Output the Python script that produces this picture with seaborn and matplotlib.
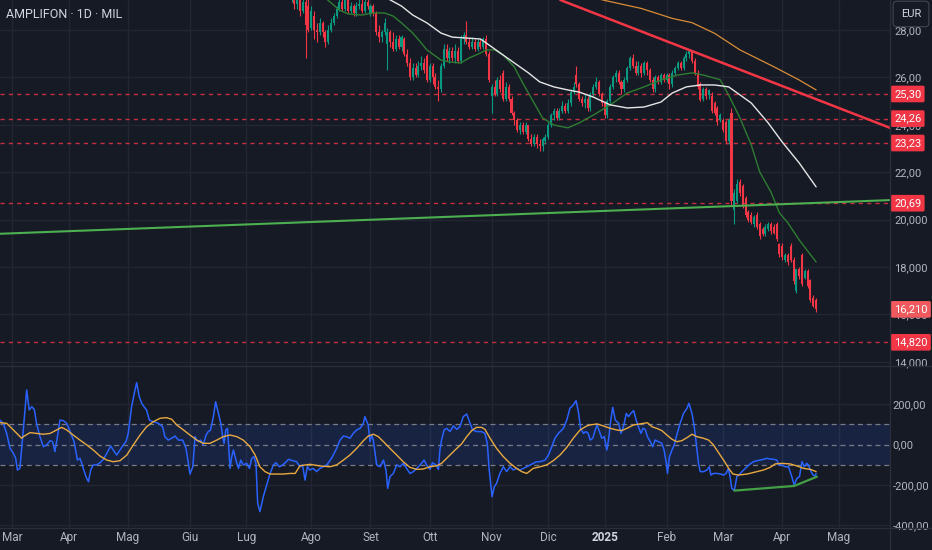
import numpy as np
import matplotlib
matplotlib.use("Agg")
import matplotlib.pyplot as plt
import matplotlib.transforms as mtransforms
from matplotlib.lines import Line2D
import seaborn as sns

# ---------------- data ----------------
month_labels = ["Mar", "Apr", "Mag", "Giu", "Lug", "Ago", "Set", "Ott", "Nov", "Dic",
                "2025", "Feb", "Mar", "Apr", "Mag"]
month_start_bar = [0, 20, 41, 63, 83, 106, 127, 148, 170, 190, 210, 232, 252, 273, 293]

candle_first_bar = 98
opens = [29.8, 29.5, 29.6, 29.1, 29.3, 28.8, 29.2, 29.0, 28.1, 28.6,
         28.0, 27.9, 28.3, 27.9, 27.5, 28.0, 28.3, 28.6, 28.9, 29.2,
         28.9, 29.3, 28.8, 29.0, 28.7, 29.0, 29.1, 28.8, 29.2, 28.7,
         29.0, 28.7, 27.9, 27.7, 27.9, 27.4, 27.9, 27.5, 27.2, 27.6,
         27.3, 27.6, 27.0, 26.6, 26.0, 26.4, 26.1, 26.5, 26.6, 26.9,
         25.9, 26.5, 26.0, 25.6, 25.5, 26.5, 27.2, 26.8, 27.1, 26.8,
         27.1, 26.7, 27.6, 27.8, 27.5, 27.3, 27.5, 27.2, 27.5, 27.3,
         27.6, 27.0, 25.2, 25.6, 25.3, 25.9, 26.2, 25.1, 25.6, 25.1,
         24.5, 24.2, 23.8, 24.0, 23.7, 24.0, 23.4, 23.2, 23.5, 23.2,
         23.1, 23.3, 23.5, 24.0, 24.4, 24.6, 24.3, 24.6, 24.8, 24.6,
         24.9, 25.4, 26.1, 25.7, 25.1, 24.9, 25.1, 24.7, 25.3, 25.6,
         25.8, 25.3, 24.9, 24.4, 25.0, 25.6, 26.0, 26.2, 25.8, 25.5,
         25.9, 26.4, 26.8, 26.5, 26.2, 26.5, 26.2, 26.6, 26.3, 25.9,
         25.5, 26.0, 25.8, 26.1, 25.9, 26.1, 25.7, 26.2, 26.4, 26.6,
         26.4, 26.8, 27.0, 27.1, 26.7, 26.2, 25.7, 25.1, 25.5, 25.25,
         25.2, 24.9, 24.7, 24.2, 24.2, 24.1, 23.3, 24.5, 20.4, 20.8,
         21.6, 21.4, 20.9, 20.3, 20.2, 19.8, 20.2, 19.8, 19.6, 19.4,
         19.6, 19.8, 19.7, 19.8, 18.95, 18.9, 18.3, 18.5, 18.9, 18.3,
         17.0, 17.9, 18.5, 17.55, 17.85, 17.45, 16.7, 16.6]
highs = [30.0, 29.9, 29.7, 29.5, 29.4, 29.4, 29.4, 29.3, 29.0, 28.8,
         28.3, 28.5, 28.4, 28.0, 28.2, 28.5, 28.7, 29.0, 29.4, 29.5,
         29.5, 29.4, 29.2, 29.1, 29.2, 29.3, 29.3, 29.4, 29.4, 29.1,
         29.1, 28.8, 28.2, 28.0, 28.5, 28.1, 28.0, 27.9, 27.8, 27.8,
         27.8, 27.7, 27.2, 26.8, 26.6, 26.6, 26.7, 26.9, 26.8, 27.0,
         26.6, 26.6, 26.2, 25.9, 26.6, 27.4, 27.4, 27.3, 27.3, 27.4,
         27.3, 27.8, 27.9, 28.4, 27.7, 27.7, 27.6, 27.6, 27.6, 27.7,
         27.8, 27.1, 25.7, 25.9, 26.0, 26.1, 26.3, 25.8, 25.7, 25.2,
         24.6, 24.3, 24.1, 24.1, 24.1, 24.0, 23.6, 23.6, 23.6, 23.4,
         23.5, 23.6, 24.1, 24.5, 24.7, 24.7, 24.7, 25.0, 24.9, 25.1,
         25.5, 25.8, 26.5, 25.8, 25.2, 25.3, 25.2, 25.4, 25.7, 26.0,
         25.9, 25.4, 25.0, 25.1, 25.7, 26.1, 26.3, 26.3, 25.9, 26.0,
         26.5, 26.9, 27.0, 26.7, 26.7, 26.6, 26.7, 26.7, 26.4, 26.0,
         26.1, 26.1, 26.2, 26.2, 26.2, 26.2, 26.3, 26.5, 26.7, 26.7,
         26.9, 27.1, 27.2, 27.1, 26.8, 26.3, 25.8, 25.6, 25.6, 25.5,
         25.4, 25.0, 24.8, 24.5, 24.3, 24.2, 24.3, 24.7, 21.3, 21.7,
         21.7, 21.5, 21.0, 20.4, 20.3, 20.2, 20.3, 19.9, 19.7, 19.8,
         19.9, 19.9, 19.8, 19.9, 19.0, 19.0, 18.6, 18.6, 19.0, 18.4,
         17.9, 18.0, 18.6, 17.9, 17.9, 17.5, 16.8, 16.7]
lows = [29.3, 29.2, 28.9, 28.9, 28.6, 28.7, 26.8, 27.9, 28.0, 27.6,
        27.5, 27.8, 27.7, 27.3, 27.4, 27.9, 28.2, 28.5, 28.8, 28.8,
        28.8, 28.7, 28.7, 28.6, 28.6, 28.9, 28.7, 28.7, 28.9, 28.6,
        28.6, 27.8, 27.5, 27.5, 27.8, 26.3, 27.3, 27.1, 27.1, 27.2,
        27.1, 26.9, 26.5, 25.9, 25.9, 26.0, 26.0, 26.3, 26.2, 25.8,
        25.8, 25.7, 25.5, 25.0, 25.4, 26.4, 26.7, 26.6, 26.7, 26.6,
        26.6, 26.6, 27.4, 27.4, 27.2, 27.2, 27.1, 27.1, 27.2, 27.2,
        26.9, 25.8, 24.5, 25.2, 25.2, 25.4, 25.0, 25.0, 25.0, 24.4,
        24.0, 23.7, 23.6, 23.6, 23.6, 23.3, 23.1, 23.1, 23.0, 22.9,
        22.9, 23.2, 23.4, 23.9, 24.2, 24.2, 24.2, 24.5, 24.5, 24.5,
        24.8, 25.3, 25.6, 25.0, 24.8, 24.7, 24.6, 24.6, 25.2, 25.5,
        25.2, 24.8, 24.3, 24.3, 24.9, 25.5, 25.8, 25.7, 25.3, 25.4,
        25.8, 26.3, 26.4, 26.1, 26.1, 26.0, 26.1, 26.1, 25.8, 25.4,
        25.4, 25.7, 25.7, 25.8, 25.8, 25.5, 25.6, 26.1, 26.3, 26.3,
        26.3, 26.7, 26.8, 26.6, 26.1, 25.5, 25.0, 25.0, 25.1, 25.1,
        24.5, 24.4, 24.0, 24.1, 23.7, 23.2, 23.2, 20.6, 19.8, 20.7,
        21.0, 20.5, 20.1, 19.9, 19.8, 19.7, 19.6, 19.2, 19.3, 19.3,
        19.5, 19.4, 19.4, 19.1, 18.4, 18.3, 18.2, 18.1, 18.2, 17.3,
        16.9, 17.5, 17.2, 17.5, 17.1, 16.5, 16.3, 16.1]
closes = [29.5, 29.6, 29.1, 29.3, 28.8, 29.2, 28.2, 28.0, 28.8, 28.0,
          27.9, 28.3, 27.9, 27.5, 28.0, 28.3, 28.6, 28.9, 29.2, 28.9,
          29.3, 28.8, 29.0, 28.7, 29.0, 29.1, 28.8, 29.2, 29.0, 29.0,
          28.7, 27.9, 27.7, 27.9, 28.3, 27.9, 27.5, 27.2, 27.6, 27.3,
          27.7, 27.0, 26.6, 26.0, 26.4, 26.1, 26.5, 26.6, 26.3, 25.9,
          26.5, 26.0, 25.6, 25.5, 26.5, 27.2, 26.8, 27.1, 26.8, 27.1,
          26.7, 27.6, 27.8, 27.5, 27.3, 27.5, 27.2, 27.5, 27.3, 27.6,
          27.0, 25.9, 25.6, 25.3, 25.9, 25.5, 25.1, 25.6, 25.1, 24.5,
          24.2, 23.8, 24.0, 23.7, 24.0, 23.4, 23.2, 23.5, 23.2, 23.1,
          23.4, 23.5, 24.0, 24.4, 24.6, 24.3, 24.6, 24.8, 24.6, 24.9,
          25.4, 25.6, 25.7, 25.1, 24.9, 25.1, 24.7, 25.3, 25.6, 25.8,
          25.3, 24.9, 24.4, 25.0, 25.6, 26.0, 26.2, 25.8, 25.5, 25.9,
          26.4, 26.8, 26.5, 26.2, 26.5, 26.2, 26.6, 26.3, 25.9, 25.5,
          26.0, 25.8, 26.1, 25.9, 26.1, 25.7, 26.2, 26.4, 26.6, 26.4,
          26.8, 27.0, 27.1, 26.7, 26.2, 25.6, 25.05, 25.5, 25.2, 25.45,
          24.6, 24.5, 24.1, 24.4, 23.8, 23.3, 24.2, 20.8, 21.1, 21.5,
          21.1, 20.6, 20.2, 20.0, 19.9, 20.1, 19.7, 19.3, 19.4, 19.7,
          19.8, 19.5, 19.45, 19.2, 18.55, 18.4, 18.5, 18.2, 18.3, 17.4,
          17.9, 17.6, 17.3, 17.85, 17.2, 16.6, 16.35, 16.21]

ma_fast_points = [(106, 29.9), (112, 29.25), (116, 28.84), (119, 28.68), (124, 28.63),
                  (128, 28.72), (132, 28.72), (135, 28.59), (138, 28.30), (142, 27.87),
                  (145, 27.45), (147, 27.16), (152, 26.73), (155, 26.65), (159, 26.61),
                  (162, 26.82), (166, 27.03), (168, 27.16), (171, 27.16), (174, 26.95),
                  (178, 26.44), (181, 25.76), (185, 24.92), (188, 24.29), (192, 23.99),
                  (197, 23.87), (201, 24.08), (206, 24.41), (212, 24.84), (218, 25.34),
                  (224, 25.60), (230, 25.89), (236, 26.10), (241, 26.19), (245, 26.10),
                  (251, 25.90), (254, 25.25), (258, 24.29), (262, 23.15), (265, 22.01),
                  (269, 21.16), (272, 20.28), (275, 19.86), (279, 19.14), (285, 18.21)]
ma_mid_points = [(128, 29.60), (134, 29.27), (138, 29.01), (142, 28.63), (147, 28.30),
                 (152, 27.87), (156, 27.70), (161, 27.66), (166, 27.62), (169, 27.37),
                 (173, 27.03), (178, 26.61), (183, 26.19), (187, 25.81), (192, 25.60),
                 (197, 25.47), (201, 25.38), (206, 25.17), (212, 24.84), (218, 24.71),
                 (224, 24.75), (230, 24.96), (234, 25.34), (239, 25.60), (244, 25.68),
                 (249, 25.68), (254, 25.60), (262, 24.92), (268, 24.08), (273, 23.27),
                 (279, 22.39), (285, 21.38)]
ma_slow_points = [(200, 29.55), (210, 29.25), (223, 28.91), (234, 28.49), (241, 28.31),
                  (249, 27.86), (258, 27.16), (270, 26.45), (279, 25.89), (285, 25.47)]

resistance_trend = [(194, 29.28), (311, 23.88)]
support_trend = [(0, 19.42), (311, 20.82)]
level_prices = [25.30, 24.26, 23.23, 20.69, 14.82]
level_labels = ["25,30", "24,26", "23,23", "20,69", "14,820"]
last_price = 16.21
last_label = "16,210"
price_ticks = [14, 16, 18, 20, 22, 24, 26, 28]
price_tick_labels = ["14,000", "16,000", "18,000", "20,000", "22,00", "24,00", "26,00", "28,00"]

cci_points = [(-4.4, 121), (-3.2, 105), (-2.0, 55), (-0.8, -19), (0.4, -44), (1.2, -68), (1.8, -126),
    (2.7, -118), (3.7, 39), (4.2, 121), (5.1, 270), (6.0, 171), (6.9, 187), (7.8, 174), (8.6, 105),
    (9.8, 39), (11.0, -11), (12.2, -2), (13.4, 19), (14.3, 14), (15.1, -35), (16.0, 39), (16.9, 121),
    (18.1, 118), (19.3, 105), (20.5, 64), (21.9, 14), (23.1, -77), (24.0, -68), (25.0, -110),
    (26.1, -159), (27.0, -184), (27.8, -126), (28.7, -101), (29.9, -101), (31.1, -90), (32.3, -73),
    (33.5, -44), (34.9, -7), (35.8, -27), (37.0, -52), (38.2, -27), (39.4, -2), (40.3, 14),
    (41.1, 55), (42.3, 187), (43.5, 270), (44.1, 306), (45.0, 237), (45.9, 204), (46.7, 187),
    (47.6, 171), (48.6, 121), (50.0, 113), (51.8, 105), (53.3, 88), (54.1, 39), (55.3, 22),
    (56.5, 31), (57.7, 42), (58.9, 22), (60.4, 22), (61.6, -19), (62.4, -93), (63.0, -146),
    (64.0, -110), (64.8, 39), (65.4, 22), (66.0, 14), (66.8, 22), (67.7, -2), (68.7, 47),
    (69.5, 64), (70.3, 72), (71.3, 138), (72.1, 212), (73.1, 154), (73.9, 105), (74.6, 39),
    (75.1, 6), (75.7, 72), (76.3, 80), (76.7, -11), (77.2, -118), (77.8, -60), (78.4, -27),
    (79.3, -77), (80.2, -118), (81.0, -77), (81.9, -101), (83.1, -93), (84.1, -118), (84.9, -68),
    (85.7, -60), (86.4, -93), (87.0, -291), (87.8, -332), (89.0, -258), (90.2, -200), (91.4, -143),
    (92.6, -101), (93.5, -90), (94.7, -110), (95.9, -101), (97.1, -85), (98.0, -73), (99.4, -80),
    (100.8, -85), (102.0, -110), (102.9, -101), (103.8, -176), (104.6, -110), (105.5, -126),
    (106.7, -118), (107.9, -134), (109.1, -118), (110.3, -110), (111.5, -101), (113.2, -68),
    (115.0, -19), (116.2, 22), (117.4, 42), (118.5, 39), (119.7, 31), (120.9, 55), (122.1, 72),
    (123.3, 80), (124.5, 105), (125.0, 138), (126.2, 97), (126.8, 14), (127.4, 47), (128.0, 22),
    (129.2, -101), (130.4, -110), (131.6, -77), (132.5, -126), (133.1, -217), (133.9, -159),
    (135.1, -143), (136.3, -101), (137.5, -110), (138.6, -93), (139.8, -118), (141.0, -143),
    (142.2, -134), (143.4, -118), (144.6, -101), (146.0, -77), (146.9, -101), (148.1, -123),
    (149.0, -90), (150.2, -101), (151.1, -123), (151.6, -27), (152.2, 22), (153.1, 72), (154.0, 80),
    (155.2, 64), (156.4, 92), (157.6, 75), (158.7, 88), (159.9, 138), (161.1, 151), (162.3, 105),
    (163.2, 72), (164.6, 64), (166.4, 64), (167.6, 55), (168.4, 6), (169.1, -126), (170.1, -258),
    (170.9, -209), (171.7, -192), (172.9, -143), (174.1, -110), (175.3, -134), (176.5, -110),
    (177.6, -126), (178.8, -118), (180.0, -126), (181.2, -118), (182.4, -110), (184.7, -93),
    (185.9, -85), (187.1, -85), (188.9, -77), (190.1, -52), (191.2, -14), (192.4, 31), (193.6, 55),
    (195.4, 80), (196.6, 121), (197.7, 179), (198.9, 196), (199.9, 217), (200.7, 163), (201.5, 80),
    (202.5, 55), (203.4, 64), (204.2, 55), (204.9, 22), (205.8, 31), (206.7, 72), (207.3, 97),
    (208.2, 64), (209.0, 31), (209.9, 39), (210.8, -27), (211.4, 22), (212.2, 121), (212.9, 184),
    (213.8, 121), (215.0, 105), (215.8, 55), (216.7, 88), (217.7, 154), (218.5, 138), (219.3, 154),
    (220.3, 168), (221.2, 121), (222.0, 88), (222.9, 55), (223.6, 80), (224.4, 75), (225.2, 39),
    (226.2, 14), (227.1, -11), (227.9, 22), (229.1, 14), (230.3, 6), (231.1, -27), (231.9, -93),
    (232.3, -143), (233.0, -60), (233.9, -27), (234.7, -2), (235.6, 47), (236.8, 105), (238.0, 154),
    (239.2, 179), (239.9, 204), (241.0, 154), (241.8, 88), (242.5, 6), (243.3, -93), (243.9, -134),
    (245.1, -134), (246.3, -126), (247.1, -110), (247.7, -151), (248.6, -143), (249.8, -143),
    (251.2, -146), (252.2, -151), (253.1, -143), (253.9, -118), (254.5, -159), (255.1, -217),
    (256.0, -228), (256.9, -159), (258.1, -143), (259.3, -126), (260.5, -110), (261.6, -96),
    (262.8, -85), (264.0, -80), (265.2, -77), (266.4, -73), (267.5, -68), (268.7, -72), (269.9, -73),
    (271.1, -77), (271.7, -101), (272.9, -101), (274.0, -110), (275.2, -110), (276.4, -159),
    (277.2, -200), (278.2, -167), (279.1, -159), (280.0, -85), (280.8, -110), (281.7, -93),
    (282.3, -101), (282.9, -126), (283.9, -151), (284.7, -156), (285.0, -143)]

cci_signal_points = [(-4.4, 108), (-2.0, 105), (0.4, 72), (3.3, 31), (3.9, 39), (6.3, 59), (8.6, 55),
    (11.0, 51), (13.4, 55), (15.7, 72), (17.5, 85), (19.3, 72), (21.6, 47), (24.0, 22), (26.4, -2),
    (28.7, -27), (31.1, -57), (33.5, -77), (35.8, -85), (38.2, -80), (40.6, -52), (42.9, -2),
    (45.3, 47), (47.6, 88), (50.0, 113), (52.4, 130), (54.7, 133), (56.5, 125), (58.3, 97),
    (60.7, 72), (63.0, 47), (65.4, 22), (67.7, 6), (70.1, 6), (72.5, 22), (74.8, 39), (77.2, 47),
    (79.6, 39), (81.9, 22), (84.3, -11), (86.1, -52), (87.8, -110), (89.6, -134), (91.4, -146),
    (93.7, -146), (96.1, -146), (98.5, -143), (100.3, -143), (102.0, -105), (105.5, -98),
    (109.1, -106), (112.6, -110), (115.0, -101), (117.4, -77), (119.7, -52), (122.1, -19),
    (124.5, 19), (126.2, 42), (128.0, 51), (129.8, 39), (131.6, 14), (133.9, -19), (136.3, -52),
    (138.6, -85), (141.0, -113), (143.4, -123), (145.7, -121), (148.1, -110), (150.5, -105),
    (152.2, -93), (154.6, -60), (157.0, -27), (159.3, 3), (161.1, 39), (162.9, 69), (164.6, 85),
    (166.4, 85), (167.6, 75), (169.4, 31), (171.7, -19), (174.1, -60), (176.5, -93), (178.8, -118),
    (180.6, -134), (182.4, -143), (184.7, -118), (187.1, -110), (189.5, -101), (191.8, -80),
    (194.2, -52), (196.6, -14), (198.9, 31), (201.3, 72), (203.7, 92), (204.9, 97), (207.3, 102),
    (209.6, 92), (212.0, 80), (214.4, 72), (216.1, 69), (217.9, 80), (220.3, 97), (222.6, 102),
    (225.2, 108), (226.8, 88), (228.5, 80), (230.3, 69), (232.1, 47), (233.9, 26), (235.6, 14),
    (237.4, 19), (239.2, 34), (241.0, 51), (242.7, 39), (245.1, 31), (246.9, 22), (248.6, -2),
    (250.4, -40), (252.2, -77), (254.0, -118), (255.5, -146), (257.5, -151), (260.5, -146),
    (264.0, -134), (266.4, -126), (268.7, -113), (270.5, -96), (272.9, -93), (275.8, -96),
    (278.2, -106), (280.6, -118), (283.0, -123), (285.0, -134)]

divergence_points = [(256.0, -228), (277.2, -205), (285.3, -159)]
cci_ticks = [200, 0, -200, -400]
cci_tick_labels = ["200,00", "0,00", "-200,00", "-400,00"]

# ---------------- style ----------------
BG = "#161a25"
GRID = "#232632"
TXT = "#b2b5be"
UP = "#089981"
DN = "#f23645"

sns.set_theme(style="dark", rc={
    "axes.facecolor": BG, "figure.facecolor": BG, "savefig.facecolor": BG,
    "axes.edgecolor": BG, "text.color": TXT, "xtick.color": TXT, "ytick.color": TXT,
    "grid.color": GRID})
plt.rcParams["font.family"] = ["Roboto", "DejaVu Sans"]

W, H = 932.0, 550.0
fig = plt.figure(figsize=(W / 100, H / 100), dpi=100)
ax = fig.add_axes([0, 1 - 366 / H, 890 / W, 366 / H])
osc = fig.add_axes([0, 1 - 528 / H, 890 / W, (528 - 366) / H], sharex=ax)

for a in (ax, osc):
    a.set_facecolor(BG)
    for s in a.spines.values():
        s.set_visible(False)
    a.yaxis.tick_right()
    a.tick_params(length=0)
    a.set_xticks(month_start_bar)
    a.grid(False)
    a.grid(True, axis="x", color=GRID, lw=1.0)

ax.set_xlim(-4.36, 311.2)
ax.set_ylim(13.82, 29.266)
ax.set_yticks(price_ticks)
ax.set_yticklabels(price_tick_labels)
ax.grid(True, axis="y", color=GRID, lw=1.0)
ax.tick_params(axis="x", labelbottom=False)
ax.tick_params(axis="y", labelsize=8, pad=3, colors=TXT)

osc.set_ylim(-413, 388.6)
osc.set_yticks(cci_ticks)
osc.set_yticklabels(cci_tick_labels)
osc.tick_params(axis="y", labelsize=8, pad=2, colors=TXT)
osc.set_xticklabels(month_labels)
osc.tick_params(axis="x", labelsize=8.5, pad=2, colors=TXT)
for lab in osc.get_xticklabels():
    if lab.get_text() == "2025":
        lab.set_color("#d1d4dc")
        lab.set_fontweight("bold")

# ---------------- main pane ----------------
for p in level_prices:
    ax.axhline(p, color=DN, lw=1.0, ls=(0, (3, 3)), alpha=0.8, zorder=1.5)

bars = np.arange(candle_first_bar, candle_first_bar + len(opens))
o = np.array(opens); h = np.array(highs); l = np.array(lows); c = np.array(closes)
cols = np.where(c >= o, UP, DN)
ax.vlines(bars, l, h, colors=cols, lw=0.8, zorder=3)
ax.bar(bars, np.maximum(np.abs(c - o), 0.03), bottom=np.minimum(o, c), width=0.72,
       color=cols, linewidth=0, zorder=3)

def pts(points):
    return [q[0] for q in points], [q[1] for q in points]

x, y = pts(ma_fast_points)
sns.lineplot(x=x, y=y, ax=ax, color="#2e7d32", lw=1.0, estimator=None, sort=False, zorder=4)
x, y = pts(ma_mid_points)
sns.lineplot(x=x, y=y, ax=ax, color="#e6e6e6", lw=1.0, estimator=None, sort=False, zorder=4)
x, y = pts(ma_slow_points)
sns.lineplot(x=x, y=y, ax=ax, color="#d98c36", lw=0.9, estimator=None, sort=False, zorder=4)

ax.axline(resistance_trend[0], resistance_trend[1], color=DN, lw=1.8, zorder=5)
ax.axline(support_trend[0], support_trend[1], color="#4caf50", lw=1.5, zorder=5)
ax.set_xlim(-4.36, 311.2)
ax.set_ylim(13.82, 29.266)

trans = mtransforms.blended_transform_factory(ax.transAxes, ax.transData)
for p, t in zip(level_prices, level_labels):
    ax.text(1 + 4 / 890, p, t, transform=trans, ha="left", va="center", fontsize=8,
            color="white", clip_on=False, zorder=10,
            bbox=dict(boxstyle="round,pad=0.3,rounding_size=0.15", fc=DN, ec="none"))
ax.text(1 + 4 / 890, last_price, last_label, transform=trans, ha="left", va="center",
        fontsize=8, color="white", clip_on=False, zorder=10,
        bbox=dict(boxstyle="round,pad=0.3,rounding_size=0.15", fc="#f05a5e", ec="none"))

# ---------------- oscillator pane ----------------
osc.axhspan(-100, 100, color="#2962ff", alpha=0.13, lw=0, zorder=1)
for v in (200, -200, -400):
    osc.axhline(v, color=GRID, lw=1.0, zorder=1)
for v in (100, 0, -100):
    osc.axhline(v, color="#787b86", lw=0.9, ls=(0, (4, 3)), zorder=1.5)

x, y = pts(cci_points)
sns.lineplot(x=x, y=y, ax=osc, color="#2962ff", lw=1.1, estimator=None, sort=False, zorder=3)
x, y = pts(cci_signal_points)
sns.lineplot(x=x, y=y, ax=osc, color="#e8a93f", lw=1.0, estimator=None, sort=False, zorder=4)
x, y = pts(divergence_points)
sns.lineplot(x=x, y=y, ax=osc, color="#43a047", lw=1.6, estimator=None, sort=False, zorder=5)
osc.set_ylim(-413, 388.6)
osc.set_xlim(-4.36, 311.2)
osc.set_xlabel(""); osc.set_ylabel(""); ax.set_xlabel(""); ax.set_ylabel("")

# ---------------- frame decorations ----------------
SEP = "#2a2e39"
fig.add_artist(Line2D([0, 1], [1 - 366 / H] * 2, transform=fig.transFigure, color=SEP, lw=1))
fig.add_artist(Line2D([0, 1], [1 - 528 / H] * 2, transform=fig.transFigure, color=SEP, lw=1))
fig.add_artist(Line2D([890 / W] * 2, [0, 1], transform=fig.transFigure, color=SEP, lw=1))

fig.text(6 / W, 1 - 14 / H, "AMPLIFON \u00b7 1D \u00b7 MIL", fontsize=9, color="#d1d4dc",
         va="center", ha="left")
fig.text(911 / W, 1 - 14 / H, "EUR", fontsize=8, color="#d1d4dc", va="center", ha="center",
         bbox=dict(boxstyle="round,pad=0.7,rounding_size=0.35", fc=BG, ec="#434651", lw=0.8))

fig.savefig("out.png", dpi=100, facecolor=BG)
